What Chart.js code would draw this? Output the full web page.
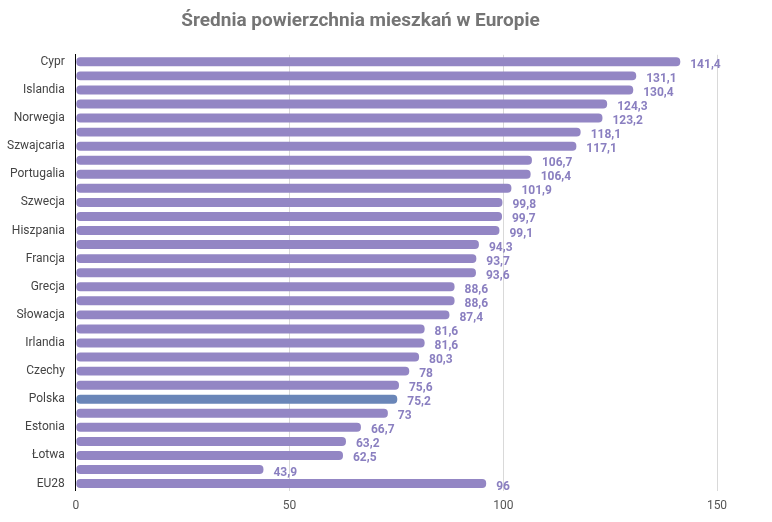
<!DOCTYPE html>
<html>
<head>
<meta charset="utf-8">
<script src="https://cdn.jsdelivr.net/npm/chart.js@4"></script>
<style>
  body { margin: 0; background: #fff; }
  #wrap { width: 772px; height: 522px; }
</style>
</head>
<body>
<div id="wrap"><canvas id="chart"></canvas></div>
<script>
const categories = ["Cypr", "Luksemburg", "Islandia", "Dania", "Norwegia", "Belgia", "Szwajcaria", "Holandia",
  "Portugalia", "Austria", "Szwecja", "Finlandia", "Hiszpania", "Wielka Brytania", "Francja", "Niemcy",
  "Grecja", "Włochy", "Słowacja", "Malta", "Irlandia", "Słowenia", "Czechy", "Bułgaria", "Polska",
  "Chorwacja", "Estonia", "Węgry", "Łotwa", "Rumunia", "EU28"];
const values = [141.4, 131.1, 130.4, 124.3, 123.2, 118.1, 117.1, 106.7, 106.4, 101.9, 99.8, 99.7, 99.1,
  94.3, 93.7, 93.6, 88.6, 88.6, 87.4, 81.6, 81.6, 80.3, 78, 75.6, 75.2, 73, 66.7, 63.2, 62.5, 43.9, 96];
const xTicks = [0, 50, 100, 150];

const BAR = "#9386c4";
const HIGHLIGHT = "#6a86b8";

const valueLabels = {
  id: "valueLabels",
  afterDatasetsDraw(chart) {
    const ctx = chart.ctx;
    const meta = chart.getDatasetMeta(0);
    ctx.save();
    ctx.font = "bold 12px Roboto";
    ctx.fillStyle = "#8a7fc0";
    ctx.textBaseline = "middle";
    meta.data.forEach((bar, i) => {
      const txt = String(values[i]).replace(".", ",");
      ctx.fillText(txt, bar.x + 10, bar.y + 3);
    });
    ctx.restore();
  }
};

new Chart(document.getElementById("chart"), {
  type: "bar",
  data: {
    labels: categories,
    datasets: [{
      data: values,
      backgroundColor: categories.map((c) => (c === "Polska" ? HIGHLIGHT : BAR)),
      borderRadius: 4,
      borderSkipped: false,
      barPercentage: 0.75,
      categoryPercentage: 0.85,
    }],
  },
  options: {
    indexAxis: "y",
    responsive: true,
    maintainAspectRatio: false,
    animation: false,
    layout: { padding: { left: 4, right: 55, top: 4, bottom: 1 } },
    plugins: {
      legend: { display: false },
      tooltip: { enabled: false },
      title: {
        display: true,
        text: "Średnia powierzchnia mieszkań w Europie",
        color: "#757575",
        font: { family: "Roboto", size: 19, weight: "bold" },
        padding: { top: 6, bottom: 22 },
      },
    },
    scales: {
      x: {
        min: 0,
        max: 150,
        afterBuildTicks: (axis) => { axis.ticks = xTicks.map((v) => ({ value: v })); },
        grid: { color: "#d9d9d9", drawTicks: false },
        border: { display: false },
        ticks: { color: "#555", font: { family: "Roboto", size: 12 }, padding: 8 },
      },
      y: {
        grid: { display: false },
        border: { color: "#000", width: 1 },
        ticks: {
          autoSkip: false,
          color: "#444",
          font: { family: "Roboto", size: 12 },
          callback: (v, i) => (i % 2 === 0 ? categories[i] : ""),
        },
      },
    },
  },
  plugins: [valueLabels],
});
</script>
</body>
</html>
